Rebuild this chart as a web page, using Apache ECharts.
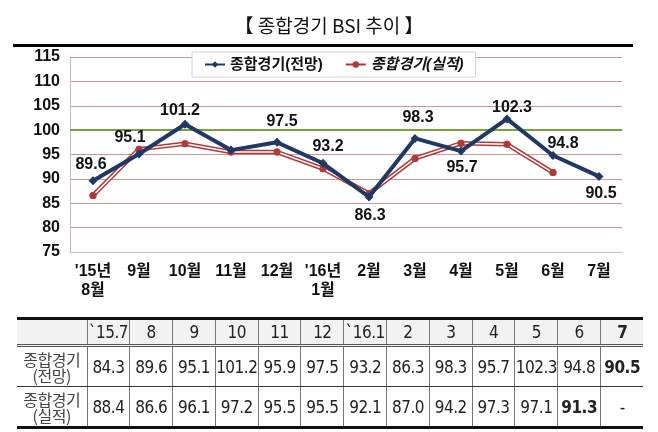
<!DOCTYPE html>
<html><head><meta charset="utf-8">
<script src="https://cdn.jsdelivr.net/npm/echarts@6/dist/echarts.min.js"></script>
<style>
html,body{margin:0;padding:0;background:#fff;}
#wrap{position:relative;width:658px;height:432px;overflow:hidden;}
#chart{position:absolute;left:0;top:0;width:658px;height:432px;}
#tbl{position:absolute;left:17px;top:317px;border-collapse:collapse;table-layout:fixed;
 font-family:'Liberation Sans Narrow','DejaVu Sans Condensed','Noto Sans CJK KR',sans-serif;color:#222;
 border-top:3px solid #111;border-bottom:3px solid #111;}
#tbl td{border-left:1px solid #777;border-right:1px solid #777;text-align:center;padding:0;
 font-size:17px;letter-spacing:-0.5px;}
#tbl td:first-child{border-left:none;}
#tbl td:last-child{border-right:none;}
#tbl tr.h td{background:#f2f2f2;height:24px;border-bottom:3px double #555;}
#tbl tr.r td{height:39px;}
#tbl tr.r1 td{border-bottom:1px solid #333;}
#tbl td.lab{font-family:'Noto Sans CJK KR',sans-serif;font-size:16px;line-height:16px;color:#444;letter-spacing:-0.5px;}
#tbl td.b{font-weight:bold;}
</style>
</head><body>
<div id="wrap"><div id="chart"></div><table id="tbl"></table></div>
<script>
// ---- chart data ----
const categories = ["'15년\n8월","9월","10월","11월","12월","'16년\n1월","2월","3월","4월","5월","6월","7월"];
const forecast = [89.6, 95.1, 101.2, 95.9, 97.5, 93.2, 86.3, 98.3, 95.7, 102.3, 94.8, 90.5];
const actual   = [86.6, 96.1, 97.2, 95.5, 95.5, 92.1, 87.0, 94.2, 97.3, 97.1, 91.3, null];
const yTicks = [75, 80, 85, 90, 95, 100, 105, 110, 115];
// ---- table data ----
const tableCols = ["`15.7","8","9","10","11","12","`16.1","2","3","4","5","6","7"];
const tableForecast = ["84.3","89.6","95.1","101.2","95.9","97.5","93.2","86.3","98.3","95.7","102.3","94.8","90.5"];
const tableActual   = ["88.4","86.6","96.1","97.2","95.5","95.5","92.1","87.0","94.2","97.3","97.1","91.3","-"];
const rowLabels = ["종합경기<br>(전망)","종합경기<br>(실적)"];

// label placement per point (style only)
const labelPos = [
  {p:'top',o:[-2,0]},{p:'top',o:[-9,0]},{p:'top',o:[-5,3]},null,{p:'top',o:[5,-4]},
  {p:'top',o:[5,0]},{p:'bottom',o:[1,2]},{p:'top',o:[3,-4]},{p:'bottom',o:[1,0]},
  {p:'top',o:[5,5]},{p:'top',o:[10,5]},{p:'bottom',o:[2,1]}
];
const FF = "'Liberation Sans','Noto Sans CJK KR',sans-serif";
const fData = forecast.map((v,i)=>{
  const lp = labelPos[i];
  if(!lp) return {value:v,label:{show:false}};
  return {value:v,label:{show:true,position:lp.p,offset:lp.o}};
});

const chart = echarts.init(document.getElementById('chart'),null,{renderer:'canvas'});
chart.setOption({
  animation:false,
  backgroundColor:'#fff',
  title:{text:'【 종합경기 BSI 추이 】',left:'center',top:11,
    textStyle:{fontFamily:"'Noto Sans CJK KR',sans-serif",fontSize:19,fontWeight:'normal',color:'#111'}},
  graphic:[{type:'rect',shape:{x:13,y:44,width:620,height:3},style:{fill:'#000'}}],
  legend:{left:192,top:52,backgroundColor:'#fff',borderColor:'#d4d4d4',borderWidth:1,
    padding:[5,12],itemGap:22,itemWidth:20,itemHeight:8,
    textStyle:{fontFamily:FF,fontSize:15,fontWeight:'bold',color:'#111'},
    data:[{name:'종합경기(전망)'},{name:'종합경기(실적)',textStyle:{fontStyle:'italic'}}]},
  grid:{left:70,right:36,top:57,bottom:180,containLabel:false},
  xAxis:{type:'category',data:categories,boundaryGap:true,
    axisLine:{show:true,lineStyle:{color:'#c0c0c0',width:1}},axisTick:{show:false},
    axisLabel:{interval:0,margin:10,fontFamily:FF,fontSize:16,fontWeight:'bold',color:'#111',lineHeight:19}},
  yAxis:{type:'value',min:yTicks[0],max:yTicks[yTicks.length-1],interval:5,
    axisLine:{show:true,lineStyle:{color:'#bdbdbd'}},axisTick:{show:false},
    axisLabel:{margin:10,fontFamily:FF,fontSize:16,fontWeight:'bold',color:'#111'},
    splitLine:{lineStyle:{color:'#c79a9a',width:1}}},
  series:[
    {name:'종합경기(실적)',type:'line',data:actual,z:3,
      lineStyle:{color:'#b03a3a',width:4.5},itemStyle:{color:'#b03a3a'},
      symbol:'circle',symbolSize:7,showSymbol:true},
    {name:'실적내부',type:'line',data:actual,z:4,silent:true,
      lineStyle:{color:'#ffffff',width:1.5},symbol:'none'},
    {name:'실적점',type:'line',data:actual,z:5,silent:true,
      lineStyle:{width:0,opacity:0},itemStyle:{color:'#b03a3a'},symbol:'circle',symbolSize:7},
    {name:'종합경기(전망)',type:'line',data:fData,z:6,
      lineStyle:{color:'#1f3864',width:4},itemStyle:{color:'#1f3864'},
      symbol:'diamond',symbolSize:9,
      label:{show:true,fontFamily:FF,fontSize:16,fontWeight:'bold',color:'#111',distance:4},
      markLine:{silent:true,symbol:'none',label:{show:false},
        lineStyle:{color:'#7aa23a',width:2,type:'solid'},data:[{yAxis:100}]}}
  ]
});

// build table
const tbl = document.getElementById('tbl');
const colW = [70].concat(tableCols.map(()=>42.8));
let html = '<colgroup>'+colW.map(w=>'<col style="width:'+w+'px">').join('')+'</colgroup>';
html += '<tr class="h"><td></td>'+tableCols.map((c,i)=>'<td'+(i===tableCols.length-1?' class="b"':'')+'>'+c+'</td>').join('')+'</tr>';
html += '<tr class="r r1"><td class="lab">'+rowLabels[0]+'</td>'+tableForecast.map((c,i)=>'<td'+(i===tableForecast.length-1?' class="b"':'')+'>'+c+'</td>').join('')+'</tr>';
html += '<tr class="r"><td class="lab">'+rowLabels[1]+'</td>'+tableActual.map((c,i)=>'<td'+(i===tableActual.length-2?' class="b"':'')+'>'+c+'</td>').join('')+'</tr>';
tbl.innerHTML = html;
</script>
</body></html>
